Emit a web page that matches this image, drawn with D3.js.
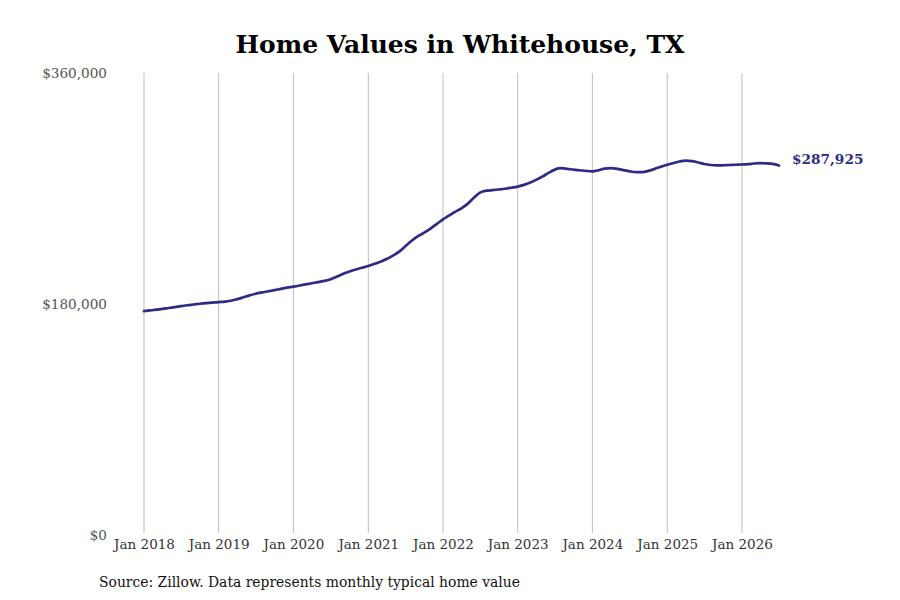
<!DOCTYPE html>
<html>
<head>
<meta charset="utf-8">
<script src="https://cdn.jsdelivr.net/npm/d3@7"></script>
<style>
  body { margin: 0; background: #fff; }
  svg { font-family: "DejaVu Serif", serif; }
</style>
</head>
<body>
<svg id="chart"></svg>
<script>
// monthly typical home value, Jan 2018 .. Jul 2026
var startMonth = "2018-01";
var values = [
  174500, 175000, 175600, 176200, 176900, 177600, 178300, 179000, 179600, 180200, 180700, 181100,
  181500, 181800, 182500, 183800, 185200, 186700, 188000, 189000, 189900, 190800, 191800, 192700,
  193500, 194400, 195300, 196200, 197000, 198000, 199300, 201400, 203500, 205400, 206900, 208200,
  209600, 211300, 213000, 215000, 217700, 220800, 225000, 229300, 232800, 235600, 238800, 242300,
  246000, 249000, 251800, 254600, 258000, 262800, 266800, 268300, 268700, 269200, 269800, 270600,
  271500, 272800, 274500, 276700, 279200, 282200, 284700, 285800, 285300, 284700, 284200, 283700,
  283400, 284300, 285500, 285900, 285300, 284300, 283400, 282800, 282800, 283700, 285300, 287000,
  288500, 289900, 291000, 291700, 291400, 290300, 289100, 288300, 288000, 288100, 288300, 288500,
  288700, 289000, 289500, 289700, 289600, 289200, 287925
];
var yTicks = [0, 180000, 360000];
var xTickYears = [2018, 2019, 2020, 2021, 2022, 2023, 2024, 2025, 2026];

var width = 900, height = 600;
var lineColor = "#2e2a86";

var parse = d3.timeParse("%Y-%m");
var t0 = parse(startMonth);
var data = values.map(function(v, i) {
  return { date: d3.timeMonth.offset(t0, i), value: v };
});

var svg = d3.select("#chart")
  .attr("width", width)
  .attr("height", height);

var x = d3.scaleTime()
  .domain([data[0].date, data[data.length - 1].date])
  .range([144, 779]);

var y = d3.scaleLinear()
  .domain([0, 360000])
  .range([535, 73]);

// vertical grid
var xTicks = xTickYears.map(function(yr) { return new Date(yr, 0, 1); });
svg.append("g")
  .selectAll("line")
  .data(xTicks)
  .enter()
  .append("line")
  .attr("x1", function(d) { return x(d); })
  .attr("x2", function(d) { return x(d); })
  .attr("y1", y(360000))
  .attr("y2", 533)
  .attr("stroke", "#bdbdbd")
  .attr("stroke-width", 1);

// x axis labels
var xAxis = d3.axisBottom(x)
  .tickValues(xTicks)
  .tickFormat(d3.timeFormat("Jan %Y"))
  .tickSize(0)
  .tickPadding(0);
var gx = svg.append("g")
  .attr("transform", "translate(0,539)")
  .call(xAxis);
gx.select(".domain").remove();
gx.selectAll("text")
  .attr("font-family", "DejaVu Serif, serif")
  .attr("font-size", "13.5px")
  .attr("fill", "#333")
  .attr("dy", "0.71em");

// y axis labels
var yAxis = d3.axisLeft(y)
  .tickValues(yTicks)
  .tickFormat(function(d) { return "$" + d3.format(",")(d); })
  .tickSize(0)
  .tickPadding(0);
var gy = svg.append("g")
  .attr("transform", "translate(107,0)")
  .call(yAxis);
gy.select(".domain").remove();
gy.selectAll("text")
  .attr("font-family", "DejaVu Serif, serif")
  .attr("font-size", "13.6px")
  .attr("fill", "#555");

// line
var line = d3.line()
  .x(function(d) { return x(d.date); })
  .y(function(d) { return y(d.value); })
  .curve(d3.curveMonotoneX);

svg.append("path")
  .datum(data)
  .attr("fill", "none")
  .attr("stroke", lineColor)
  .attr("stroke-width", 2.7)
  .attr("stroke-linecap", "round")
  .attr("d", line);

// end label
var last = data[data.length - 1];
svg.append("text")
  .attr("x", x(last.date) + 13)
  .attr("y", y(last.value) - 1)
  .attr("font-size", "13.7px")
  .attr("font-weight", "bold")
  .attr("fill", lineColor)
  .text("$" + d3.format(",")(last.value));

// title
svg.append("text")
  .attr("x", 460)
  .attr("y", 53)
  .attr("text-anchor", "middle")
  .attr("font-size", "25px")
  .attr("font-weight", "bold")
  .attr("fill", "#000")
  .text("Home Values in Whitehouse, TX");

// source
svg.append("text")
  .attr("x", 99)
  .attr("y", 587)
  .attr("font-size", "13.9px")
  .attr("fill", "#111")
  .text("Source: Zillow. Data represents monthly typical home value");
</script>
</body>
</html>
